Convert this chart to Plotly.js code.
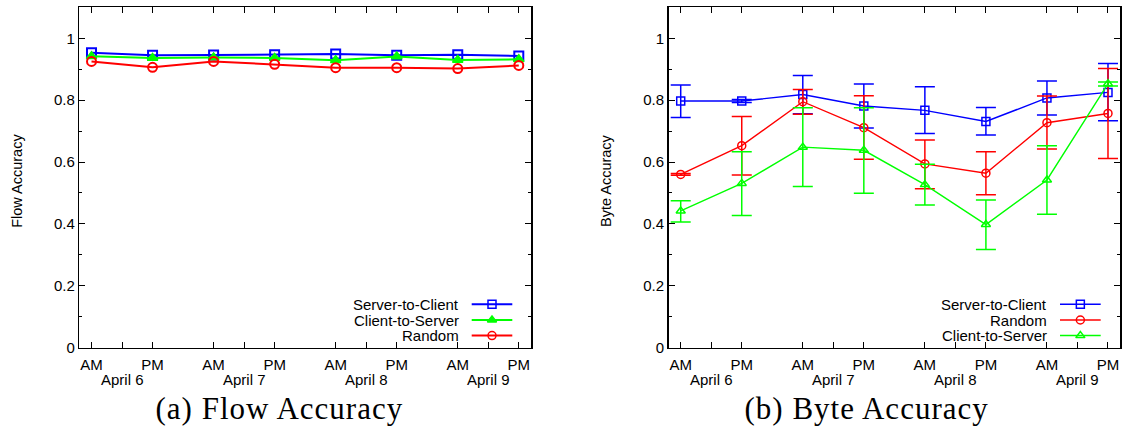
<!DOCTYPE html>
<html><head><meta charset="utf-8">
<script src="https://cdn.plot.ly/plotly-3.0.1.min.js"></script>
<style>body{margin:0;background:#fff}#c{width:1132px;height:432px}</style>
</head><body><div id="c"></div>
<script>
// ---- data ----
const slots = [0,1,2,3,4,5,6,7];
const slotLabels = ['AM','PM','AM','PM','AM','PM','AM','PM'];
const dayPos = [0.5,2.5,4.5,6.5];
const dayLabels = ['April 6','April 7','April 8','April 9'];

const flowS2C  = [0.953,0.945,0.946,0.947,0.949,0.945,0.947,0.943];
const flowC2S  = [0.942,0.936,0.938,0.936,0.929,0.941,0.930,0.932];
const flowRand = [0.925,0.906,0.925,0.916,0.905,0.905,0.902,0.912];

const byteS2C   = [0.797,0.797,0.818,0.781,0.767,0.731,0.807,0.825];
const byteS2CHi = [0.849,0.802,0.880,0.852,0.843,0.776,0.862,0.918];
const byteS2CLo = [0.744,0.792,0.756,0.710,0.692,0.687,0.752,0.733];
const byteRand   = [0.560,0.653,0.795,0.711,0.594,0.564,0.727,0.757];
const byteRandHi = [0.563,0.747,0.834,0.814,0.671,0.633,0.813,0.902];
const byteRandLo = [0.557,0.558,0.754,0.609,0.514,0.494,0.642,0.611];
const byteC2S   = [0.442,0.531,0.648,0.638,0.527,0.398,0.542,0.853];
const byteC2SHi = [0.475,0.633,0.775,0.775,0.593,0.477,0.653,0.859];
const byteC2SLo = [0.406,0.427,0.521,0.499,0.461,0.317,0.431,0.846];

const names = {s2c:'Server-to-Client', c2s:'Client-to-Server', rand:'Random'};
const captions = ['(a) Flow Accuracy','(b) Byte Accuracy'];
const yTitles = ['Flow Accuracy','Byte Accuracy'];
const BLUE='#0000ff', RED='#ff0000', GREEN='#00ff00';

// ---- geometry (pixels) ----
const W=1132, H=432;
const P1 = {l:79.3, r:531, t:7.3, b:347.7};
const P2 = {l:668.5, r:1120.2, t:7.3, b:347.7};
const fx = v=>v/W, fy = v=>(H-v)/H;

const FONT = 'Liberation Sans, Arial, sans-serif';
function errs(y,hi,lo,color){
  return {type:'data', array:hi.map((h,i)=>h-y[i]), arrayminus:lo.map((l,i)=>y[i]-l),
          color:color, thickness:1.5, width:10, visible:true};
}
const traces = [];
// left panel
traces.push({x:slots,y:flowS2C,xaxis:'x',yaxis:'y',mode:'lines+markers',
  line:{color:BLUE,width:2},marker:{symbol:'square-open',size:9,color:BLUE,line:{width:2}}});
traces.push({x:slots,y:flowC2S,xaxis:'x',yaxis:'y',mode:'lines+markers',
  line:{color:GREEN,width:2},marker:{symbol:'triangle-up',size:9,color:GREEN,line:{width:1.5,color:GREEN}}});
traces.push({x:slots,y:flowRand,xaxis:'x',yaxis:'y',mode:'lines+markers',
  line:{color:RED,width:2},marker:{symbol:'circle-open',size:9,color:RED,line:{width:2}}});
// right panel
traces.push({x:slots,y:byteS2C,xaxis:'x2',yaxis:'y2',mode:'lines+markers',
  line:{color:BLUE,width:1.4},marker:{symbol:'square-open',size:8,color:BLUE,line:{width:1.5}},
  error_y:errs(byteS2C,byteS2CHi,byteS2CLo,BLUE)});
traces.push({x:slots,y:byteRand,xaxis:'x2',yaxis:'y2',mode:'lines+markers',
  line:{color:RED,width:1.4},marker:{symbol:'circle-open',size:8,color:RED,line:{width:1.5}},
  error_y:errs(byteRand,byteRandHi,byteRandLo,RED)});
traces.push({x:slots,y:byteC2S,xaxis:'x2',yaxis:'y2',mode:'lines+markers',
  line:{color:GREEN,width:1.4},marker:{symbol:'triangle-up-open',size:8,color:GREEN,line:{width:1.5}},
  error_y:errs(byteC2S,byteC2SHi,byteC2SLo,GREEN)});

// legend samples (gnuplot style: text then line sample) on a pixel overlay axis
const legRows=[304.3,320,335.6];
const legends=[
  {textR:460.7, x0:471.7, x1:512.3, items:[[names.s2c,BLUE,'square-open'],[names.c2s,GREEN,'triangle-up'],[names.rand,RED,'circle-open']], w:2},
  {textR:1049.3, x0:1060, x1:1100.7, items:[[names.s2c,BLUE,'square-open'],[names.rand,RED,'circle-open'],[names.c2s,GREEN,'triangle-up-open']], w:1.5}
];
const annotations=[];
legends.forEach(L=>{
  L.items.forEach((it,i)=>{
    const yy=legRows[i];
    traces.push({x:[L.x0,L.x1],y:[yy,yy],xaxis:'x3',yaxis:'y3',mode:'lines',line:{color:it[1],width:L.w},hoverinfo:'skip'});
    traces.push({x:[(L.x0+L.x1)/2],y:[yy],xaxis:'x3',yaxis:'y3',mode:'markers',
      marker:{symbol:it[2],size:8,color:it[1],line:{width:1.5,color:it[1]}},hoverinfo:'skip'});
    annotations.push({xref:'paper',yref:'paper',x:fx(L.textR),y:fy(yy),xanchor:'right',yanchor:'middle',
      text:it[0],showarrow:false,font:{family:FONT,size:15,color:'#000'}});
  });
});
// day labels
['x','x2'].forEach(ax=>{
  dayPos.forEach((p,i)=>annotations.push({xref:ax,yref:'paper',x:p,y:fy(379),xanchor:'center',yanchor:'middle',
    text:dayLabels[i],showarrow:false,font:{family:FONT,size:15,color:'#000'}}));
});
// y titles
[16.8,606].forEach((px,i)=>annotations.push({xref:'paper',yref:'paper',x:fx(px),y:fy(181),textangle:-90,
  xanchor:'center',yanchor:'middle',text:yTitles[i],showarrow:false,font:{family:FONT,size:14.5,color:'#000'}}));
// captions
[279,867].forEach((px,i)=>annotations.push({xref:'paper',yref:'paper',x:fx(px),y:fy(408),xanchor:'center',
  yanchor:'middle',text:captions[i],showarrow:false,font:{family:'Liberation Serif, serif',size:31,color:'#000'}}));

function xax(P){
  return {domain:[fx(P.l),fx(P.r)],range:[-0.2,7.2],tickmode:'array',tickvals:slots,ticktext:slotLabels,
    ticks:'inside',ticklen:6,tickwidth:1,tickcolor:'#000',showline:true,linecolor:'#000',linewidth:1.5,mirror:'ticks',
    showgrid:false,zeroline:false,tickfont:{family:FONT,size:15,color:'#000'},ticklabelstandoff:3,
    minor:{tickmode:'array',tickvals:dayPos,ticks:'inside',ticklen:6,tickwidth:1,tickcolor:'#000',showgrid:false},
    fixedrange:true};
}
function yax(P){
  return {domain:[fy(P.b),fy(P.t)],range:[0,1.1],tickmode:'array',tickvals:[0,0.2,0.4,0.6,0.8,1],
    ticktext:['0','0.2','0.4','0.6','0.8','1'],
    ticks:'inside',ticklen:6,tickwidth:1,tickcolor:'#000',showline:true,linecolor:'#000',linewidth:1.5,mirror:'ticks',
    showgrid:false,zeroline:false,tickfont:{family:FONT,size:15,color:'#000'},
    minor:{tickmode:'array',tickvals:[0.1,0.3,0.5,0.7,0.9],ticks:'inside',ticklen:3,tickwidth:1,tickcolor:'#000',showgrid:false},
    fixedrange:true};
}
const layout = {
  width:W,height:H,margin:{l:0,r:0,t:0,b:0},paper_bgcolor:'#fff',plot_bgcolor:'rgba(0,0,0,0)',
  showlegend:false,
  xaxis:Object.assign(xax(P1),{anchor:'y'}), yaxis:Object.assign(yax(P1),{anchor:'x'}),
  xaxis2:Object.assign(xax(P2),{anchor:'y2'}), yaxis2:Object.assign(yax(P2),{anchor:'x2'}),
  xaxis3:{domain:[0,1],range:[0,W],visible:false,anchor:'y3',fixedrange:true},
  yaxis3:{domain:[0,1],range:[H,0],visible:false,anchor:'x3',fixedrange:true},
  annotations:annotations
};
Plotly.newPlot('c',traces,layout,{staticPlot:true,displayModeBar:false}).then(gd=>{
  // widen caption lettering to approximate the Computer Modern look of the original
  gd.querySelectorAll('.annotation-text').forEach(t=>{
    if (captions.includes(t.textContent)) t.style.letterSpacing='1px';
  });
});
</script></body></html>
